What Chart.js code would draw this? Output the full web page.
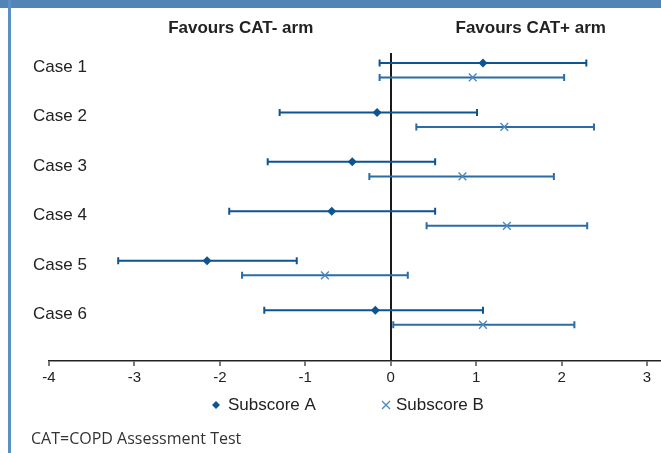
<!DOCTYPE html>
<html>
<head>
<meta charset="utf-8">
<script src="https://cdn.jsdelivr.net/npm/chart.js@4.4.1/dist/chart.umd.min.js"></script>
<style>
html, body { margin: 0; padding: 0; background: #fff; }
#wrap { position: relative; width: 661px; height: 453px; overflow: hidden; }
#topbar { position: absolute; left: 0; top: 0; width: 661px; height: 8px; background: #5285b6; }
#leftbar { position: absolute; left: 8px; top: 0; width: 3px; height: 453px; background: #5b8fc5; }
#chart { position: absolute; left: 0; top: 0; }
#note { position: absolute; left: 31px; top: 427px; font: 16px "Open Sans", sans-serif; color: #333; }
</style>
</head>
<body>
<div id="wrap">
  <canvas id="chart" width="661" height="453"></canvas>
  <div id="topbar"></div>
  <div id="leftbar"></div>
  <div id="note">CAT=COPD Assessment Test</div>
</div>
<script>
const caseLabels = ['Case 1', 'Case 2', 'Case 3', 'Case 4', 'Case 5', 'Case 6'];
const seriesNames = ['Subscore A', 'Subscore B'];
const sideLabels = ['Favours CAT- arm', 'Favours CAT+ arm'];
const xTicks = [-4, -3, -2, -1, 0, 1, 2, 3];

// Subscore A: point estimate and CI
const aMean = [1.08, -0.16, -0.45, -0.69, -2.15, -0.18];
const aLow  = [-0.13, -1.30, -1.44, -1.89, -3.19, -1.48];
const aHigh = [2.29, 1.01, 0.52, 0.52, -1.10, 1.08];

// Subscore B
const bMean = [0.96, 1.33, 0.84, 1.36, -0.77, 1.08];
const bLow  = [-0.13, 0.30, -0.25, 0.42, -1.74, 0.03];
const bHigh = [2.03, 2.38, 1.91, 2.30, 0.20, 2.15];

const colA = '#0d5493';
const colB = '#2b6ca6';
const colBMark = '#4a88c2';
const rowShift = 0.147;

const toPoints = (vals, shift) => vals.map((v, i) => ({ x: v, y: i + 1 + shift }));

const errorBars = {
  id: 'errorBars',
  beforeDatasetsDraw(chart) {
    const ctx = chart.ctx;
    const xs = chart.scales.x;
    chart.data.datasets.forEach((ds, d) => {
      const meta = chart.getDatasetMeta(d);
      ctx.save();
      ctx.strokeStyle = ds.barColor;
      ctx.lineWidth = 2;
      meta.data.forEach((pt, j) => {
        const x1 = xs.getPixelForValue(ds.lows[j]);
        const x2 = xs.getPixelForValue(ds.highs[j]);
        const y = pt.y;
        ctx.beginPath();
        ctx.moveTo(x1, y); ctx.lineTo(x2, y);
        ctx.moveTo(x1, y - 3.5); ctx.lineTo(x1, y + 3.5);
        ctx.moveTo(x2, y - 3.5); ctx.lineTo(x2, y + 3.5);
        ctx.stroke();
      });
      ctx.restore();
    });
  }
};

const textBits = {
  id: 'textBits',
  afterDraw(chart) {
    const ctx = chart.ctx;
    const ys = chart.scales.y;
    const xs = chart.scales.x;
    const zero = xs.getPixelForValue(0);
    ctx.save();
    ctx.fillStyle = '#222';
    ctx.textBaseline = 'middle';

    ctx.font = '17px "Liberation Sans", Arial, sans-serif';
    ctx.textAlign = 'left';
    caseLabels.forEach((lab, i) => {
      ctx.fillText(lab, 33, ys.getPixelForValue(i + 1) - 3);
    });

    ctx.font = 'bold 17px "Liberation Sans", Arial, sans-serif';
    ctx.textAlign = 'center';
    ctx.fillText(sideLabels[0], zero - 150, 28);
    ctx.fillText(sideLabels[1], zero + 140, 28);

    // legend
    const ly = 405;
    ctx.font = '17px "Liberation Sans", Arial, sans-serif';
    ctx.textAlign = 'left';
    ctx.fillStyle = colA;
    ctx.beginPath();
    ctx.moveTo(216, ly - 4); ctx.lineTo(220, ly); ctx.lineTo(216, ly + 4); ctx.lineTo(212, ly);
    ctx.closePath(); ctx.fill();
    ctx.fillStyle = '#222';
    ctx.fillText(seriesNames[0], 228, ly);

    ctx.strokeStyle = colBMark;
    ctx.lineWidth = 1.3;
    ctx.beginPath();
    ctx.moveTo(382, ly - 4); ctx.lineTo(390, ly + 4);
    ctx.moveTo(390, ly - 4); ctx.lineTo(382, ly + 4);
    ctx.stroke();
    ctx.fillText(seriesNames[1], 396, ly);
    ctx.restore();
  }
};

new Chart(document.getElementById('chart').getContext('2d'), {
  type: 'scatter',
  data: {
    datasets: [{
      label: seriesNames[0],
      data: toPoints(aMean, -rowShift),
      lows: aLow,
      highs: aHigh,
      barColor: colA,
      pointStyle: 'rectRot',
      pointRadius: 4.5,
      backgroundColor: colA,
      borderColor: colA,
      borderWidth: 0
    }, {
      label: seriesNames[1],
      data: toPoints(bMean, rowShift),
      lows: bLow,
      highs: bHigh,
      barColor: colB,
      pointStyle: 'crossRot',
      pointRadius: 5.5,
      backgroundColor: colBMark,
      borderColor: colBMark,
      borderWidth: 1.4
    }]
  },
  options: {
    responsive: false,
    animation: false,
    layout: { autoPadding: false, padding: { left: 49, right: 0, top: 53, bottom: 0 } },
    plugins: {
      legend: { display: false },
      tooltip: { enabled: false }
    },
    scales: {
      x: {
        type: 'linear',
        min: -4,
        max: 3.164,
        afterBuildTicks: s => { s.ticks = xTicks.map(v => ({ value: v })); },
        afterFit: s => { s.height = 92; s.paddingLeft = 0; s.paddingRight = 0; },
        border: { display: true, color: '#222', width: 1.5 },
        grid: {
          color: c => (c.tick && c.tick.value === 0 ? '#1a1a1a' : 'rgba(0,0,0,0)'),
          lineWidth: 2,
          drawTicks: true,
          tickLength: 5,
          tickColor: '#222',
          tickWidth: 1.2
        },
        ticks: {
          color: '#222',
          padding: 3,
          font: { family: '"Liberation Sans", Arial, sans-serif', size: 15 }
        }
      },
      y: {
        type: 'linear',
        display: false,
        reverse: true,
        min: 0.652,
        max: 6.88
      }
    }
  },
  plugins: [errorBars, textBits]
});
</script>
</body>
</html>
